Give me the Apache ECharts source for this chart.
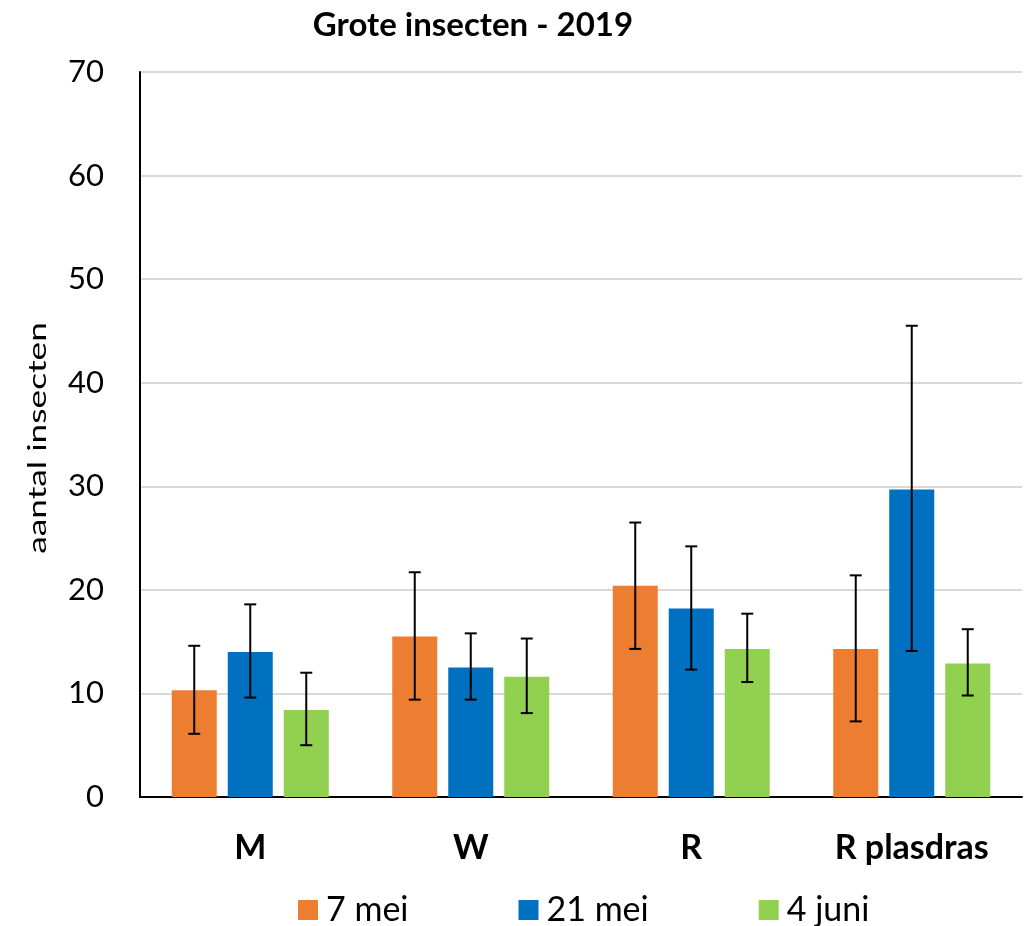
<!DOCTYPE html>
<html><head><meta charset="utf-8">
<script src="https://cdn.jsdelivr.net/npm/echarts@6/dist/echarts.min.js"></script>
<style>html,body{margin:0;padding:0;background:#fff}#c{width:1032px;height:926px}</style>
</head><body><div id="c"></div>
<script>
const categories = ['M', 'W', 'R', 'R plasdras'];
const seriesNames = ['7 mei', '21 mei', '4 juni'];
const mei7 = [10.3, 15.5, 20.4, 14.3];
const mei21 = [14.0, 12.5, 18.2, 29.7];
const juni4 = [8.4, 11.6, 14.3, 12.9];
const mei7Low = [6.1, 9.4, 14.3, 7.3];
const mei7High = [14.6, 21.7, 26.5, 21.4];
const mei21Low = [9.6, 9.4, 12.3, 14.1];
const mei21High = [18.6, 15.8, 24.2, 45.5];
const juni4Low = [5.0, 8.1, 11.1, 9.8];
const juni4High = [12.0, 15.3, 17.7, 16.2];
const colors = ['#ED7D31', '#0070C0', '#92D050'];
const yAxisName = 'aantal insecten';

const values = [mei7, mei21, juni4];
const lows = [mei7Low, mei21Low, juni4Low];
const highs = [mei7High, mei21High, juni4High];
const FONT = 'Lato';
const barW = 45, gapPx = 11;

const series = [];
values.forEach((v, i) => {
  series.push({
    name: seriesNames[i], type: 'bar', data: v, barWidth: barW, barGap: (gapPx / barW * 100) + '%',
    itemStyle: { color: colors[i] }, z: 2
  });
});
values.forEach((v, i) => {
  series.push({
    type: 'custom', name: seriesNames[i] + ' err', z: 5,
    data: categories.map((c, k) => [k, lows[i][k], highs[i][k]]),
    renderItem: function (params, api) {
      const k = api.value(0);
      const lo = api.coord([k, api.value(1)]);
      const hi = api.coord([k, api.value(2)]);
      const off = (i - 1) * (barW + gapPx);
      const x = lo[0] + off;
      const cap = 6;
      const st = { stroke: '#000', lineWidth: 2 };
      return { type: 'group', children: [
        { type: 'line', shape: { x1: x, y1: lo[1], x2: x, y2: hi[1] }, style: st },
        { type: 'line', shape: { x1: x - cap, y1: lo[1], x2: x + cap, y2: lo[1] }, style: st },
        { type: 'line', shape: { x1: x - cap, y1: hi[1], x2: x + cap, y2: hi[1] }, style: st }
      ] };
    },
    encode: { x: 0, y: [1, 2] }, silent: true
  });
});

const chart = echarts.init(document.getElementById('c'));
chart.setOption({
  animation: false,
  textStyle: { fontFamily: FONT },
  title: { text: 'Grote insecten - 2019', left: 468, top: 4, textAlign: 'center',
    textStyle: { fontFamily: FONT, fontWeight: 'bold', fontSize: 33, color: '#000' } },
  legend: { data: seriesNames, top: 888, left: 293, itemWidth: 20, itemHeight: 20, itemGap: 110,
    icon: 'rect', textStyle: { fontFamily: FONT, fontSize: 34, color: '#000', padding: [0, 0, 0, 3] } },
  grid: { left: 140, right: 10, top: 72, bottom: 129 },
  graphic: [{ type: 'text', x: 38, y: 438, rotation: Math.PI / 2, scaleX: 1.41,
    style: { text: yAxisName, fontFamily: FONT, fontSize: 25, fill: '#000', align: 'center', verticalAlign: 'middle' } }],
  xAxis: { type: 'category', data: categories,
    axisLine: { lineStyle: { color: '#000', width: 2 } }, axisTick: { show: false },
    axisLabel: { fontFamily: FONT, fontWeight: 'bold', fontSize: 34, color: '#000', margin: 34 } },
  yAxis: { type: 'value', min: 0, max: 70, interval: 10,
    axisLine: { show: true, lineStyle: { color: '#000', width: 2 } }, axisTick: { show: false },
    axisLabel: { fontFamily: FONT, fontSize: 31, color: '#000', margin: 36 },
    splitLine: { lineStyle: { color: '#d9d9d9', width: 2 } } },
  series: series
});
</script></body></html>
